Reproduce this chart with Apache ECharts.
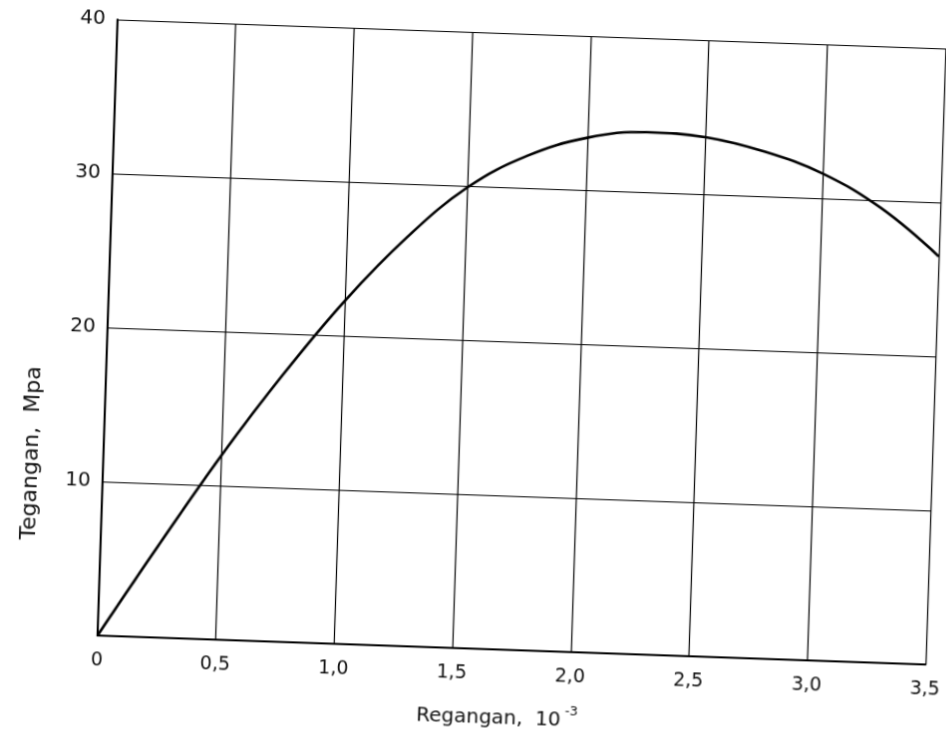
<!DOCTYPE html>
<html>
<head>
<meta charset="utf-8">
<script src="https://cdn.jsdelivr.net/npm/echarts@6/dist/echarts.min.js"></script>
<style>
html,body{margin:0;padding:0;background:#fff;overflow:hidden;width:946px;height:743px;}
#wrap{position:fixed;left:0;top:0;width:946px;height:743px;overflow:hidden;background:#fff;}
#chart{position:absolute;left:0;top:0;width:980px;height:760px;transform-origin:0 0;
  transform:matrix(0.99639,0.034898,-0.032468,1,11.99,-18.234);}
</style>
</head>
<body>
<div id="wrap"><div id="chart"></div></div>
<script>
// Strain (x 10^-3) and stress (MPa)
const strain = [0, 0.25, 0.5, 0.75, 1.0, 1.25, 1.5, 1.75, 2.0, 2.25, 2.5, 2.75, 3.0, 3.25, 3.5];
const stress = [0, 6.1, 12.0, 17.4, 22.3, 26.5, 29.9, 32.1, 33.4, 33.9, 33.7, 32.9, 31.6, 29.5, 26.5];
const xTicks = [0, 0.5, 1.0, 1.5, 2.0, 2.5, 3.0, 3.5];
const yTicks = [10, 20, 30, 40];
const yTitle = 'Tegangan,  Mpa';
const xTitle = 'Regangan,  10';
const xTitleExp = '-3';

const chart = echarts.init(document.getElementById('chart'));
const font = 'DejaVu Sans';
chart.setOption({
  backgroundColor: '#fff',
  animation: false,
  grid: {left: 107, right: 42, top: 34, bottom: 110, containLabel: false, outerBoundsMode: 'none'},
  xAxis: {
    type: 'value', min: 0, max: 3.5, interval: 0.5,
    axisLine: {show: true, onZero: false, lineStyle: {color: '#000', width: 2}},
    axisTick: {show: false},
    splitLine: {show: true, lineStyle: {color: '#000', width: 1.2}},
    axisLabel: {
      margin: 16, color: '#111', fontFamily: font, fontSize: 19, hideOverlap: false,
      formatter: v => xTicks.indexOf(v) < 0 ? '' : (v === 0 ? '0' : v.toFixed(1).replace('.', ','))
    }
  },
  yAxis: {
    type: 'value', min: 0, max: 40, interval: 10,
    axisLine: {show: true, onZero: false, lineStyle: {color: '#000', width: 2}},
    axisTick: {show: false},
    splitLine: {show: true, lineStyle: {color: '#000', width: 1.2}},
    axisLabel: {
      margin: 12, color: '#111', fontFamily: font, fontSize: 20,
      formatter: v => yTicks.indexOf(v) < 0 ? '' : String(v)
    }
  },
  graphic: [
    {
      type: 'text', x: 35, y: 470, rotation: Math.PI / 2,
      style: {text: yTitle, fill: '#111', font: '22px "DejaVu Sans"', textAlign: 'center', textVerticalAlign: 'middle'}
    },
    {
      type: 'text', x: 510, y: 719,
      style: {
        text: '{a|' + xTitle + '}{b|' + xTitleExp + '}',
        textAlign: 'center', textVerticalAlign: 'middle',
        rich: {
          a: {fontFamily: font, fontSize: 20, fill: '#111', color: '#111'},
          b: {fontFamily: font, fontSize: 13, fill: '#111', color: '#111', verticalAlign: 'top', padding: [0, 0, 18, 4]}
        }
      }
    }
  ],
  series: [{
    type: 'line',
    data: strain.map((s, i) => [s, stress[i]]),
    smooth: 0.4,
    symbol: 'none',
    lineStyle: {color: '#000', width: 2.6}
  }]
});
</script>
</body>
</html>
